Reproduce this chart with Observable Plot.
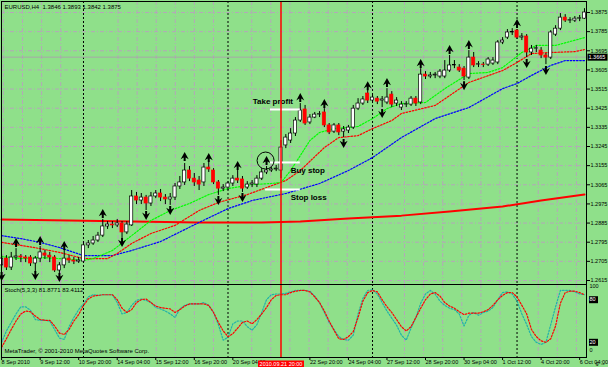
<!DOCTYPE html>
<html><head><meta charset="utf-8">
<script src="https://cdn.jsdelivr.net/npm/d3@7"></script>
<script src="https://cdn.jsdelivr.net/npm/@observablehq/plot@0.6"></script>
<style>
html,body{margin:0;padding:0;background:#fff;}
#chart{position:relative;width:608px;height:367px;background:#8FE08A;overflow:hidden;}
#chart svg{position:absolute;left:0;}
</style></head><body><div id="chart"></div>
<script>
// ---------- DATA (H4 EURUSD, bar index 0 = 13 Sep 2010 00:00) ----------
const firstBar = -17;
const opens = [1.2686,1.2718,1.2676,1.2723,1.2728,1.2723,1.2723,1.2695,1.2718,1.2742,1.2732,1.2723,1.2662,1.2686,1.2718,1.2709,1.2704,
 1.2704,1.2780,1.2789,1.2803,1.2826,1.2869,1.2878,1.2874,1.2883,1.2841,
 1.2874,1.3010,1.2991,1.3005,1.2977,1.3010,1.3024,1.3005,1.2996,1.3005,
 1.3057,1.3076,1.3132,1.3094,1.3085,1.3076,1.3146,1.3132,1.3076,1.3047,
 1.3052,1.3071,1.3094,1.3090,1.3052,1.3066,1.3066,1.3094,1.3123,1.3132,
 1.3137,1.3132,1.3250,1.3273,1.3306,1.3367,1.3419,1.3358,1.3381,1.3395,
 1.3405,1.3344,1.3315,1.3344,1.3315,1.3320,1.3334,1.3423,1.3447,1.3494,
 1.3461,1.3470,1.3461,1.3452,1.3489,1.3447,1.3428,1.3442,1.3442,1.3470,
 1.3452,1.3583,1.3574,1.3579,1.3574,1.3574,1.3602,1.3626,1.3616,1.3611,
 1.3569,1.3663,1.3630,1.3630,1.3630,1.3635,1.3640,1.3734,1.3757,1.3781,
 1.3790,1.3757,1.3762,1.3687,1.3705,1.3696,1.3673,1.3663,1.3771,1.3799,
 1.3851,1.3837,1.3837,1.3846,1.3846];
const highs = [1.2737,1.2732,1.2747,1.2765,1.2737,1.2732,1.2732,1.2728,1.2775,1.2756,1.2747,1.2732,1.2699,1.2756,1.2732,1.2723,1.2723,
 1.2789,1.2803,1.2822,1.2841,1.2902,1.2892,1.2892,1.2902,1.2892,1.2892,
 1.3038,1.3029,1.3024,1.3015,1.3029,1.3038,1.3043,1.3019,1.3024,1.3071,
 1.3104,1.3165,1.3151,1.3118,1.3104,1.3165,1.3170,1.3141,1.3085,1.3066,
 1.3080,1.3108,1.3132,1.3104,1.3080,1.3085,1.3108,1.3141,1.3151,1.3146,
 1.3156,1.3273,1.3301,1.3329,1.3381,1.3447,1.3438,1.3395,1.3405,1.3409,
 1.3423,1.3353,1.3353,1.3353,1.3339,1.3344,1.3438,1.3470,1.3480,1.3508,
 1.3485,1.3480,1.3480,1.3517,1.3503,1.3475,1.3456,1.3456,1.3480,1.3480,
 1.3611,1.3597,1.3593,1.3593,1.3607,1.3649,1.3673,1.3649,1.3630,1.3621,
 1.3696,1.3687,1.3644,1.3640,1.3663,1.3663,1.3743,1.3757,1.3795,1.3799,
 1.3795,1.3776,1.3771,1.3720,1.3720,1.3710,1.3682,1.3790,1.3813,1.3870,
 1.3865,1.3851,1.3856,1.3861,1.3893];
const lows = [1.2671,1.2662,1.2662,1.2709,1.2699,1.2699,1.2681,1.2653,1.2699,1.2714,1.2699,1.2653,1.2648,1.2671,1.2695,1.2690,1.2695,
 1.2695,1.2765,1.2780,1.2794,1.2817,1.2855,1.2859,1.2864,1.2812,1.2831,
 1.2869,1.2972,1.2972,1.2944,1.2963,1.3000,1.2986,1.2972,1.2968,1.2991,
 1.3043,1.3062,1.3080,1.3057,1.3038,1.3057,1.3123,1.3066,1.3015,1.3033,
 1.3038,1.3057,1.3071,1.3029,1.3043,1.3052,1.3052,1.3085,1.3113,1.3123,
 1.3127,1.3094,1.3235,1.3259,1.3292,1.3358,1.3344,1.3348,1.3376,1.3381,
 1.3334,1.3301,1.3306,1.3296,1.3287,1.3306,1.3325,1.3414,1.3438,1.3447,
 1.3447,1.3442,1.3428,1.3442,1.3428,1.3433,1.3414,1.3428,1.3433,1.3433,
 1.3442,1.3560,1.3564,1.3564,1.3564,1.3564,1.3593,1.3611,1.3593,1.3555,
 1.3560,1.3616,1.3616,1.3616,1.3621,1.3626,1.3630,1.3724,1.3748,1.3767,
 1.3748,1.3743,1.3663,1.3673,1.3687,1.3658,1.3630,1.3654,1.3762,1.3790,
 1.3828,1.3823,1.3828,1.3832,1.3842];
const closes = [1.2718,1.2676,1.2723,1.2728,1.2723,1.2718,1.2695,1.2718,1.2747,1.2732,1.2723,1.2662,1.2686,1.2718,1.2709,1.2704,1.2709,
 1.2780,1.2789,1.2803,1.2826,1.2869,1.2878,1.2874,1.2883,1.2841,1.2878,
 1.3010,1.2991,1.3005,1.2977,1.3010,1.3024,1.3005,1.2996,1.3005,1.3057,
 1.3076,1.3132,1.3094,1.3076,1.3066,1.3146,1.3137,1.3076,1.3047,1.3052,
 1.3071,1.3094,1.3085,1.3047,1.3066,1.3071,1.3094,1.3123,1.3132,1.3137,
 1.3141,1.3240,1.3287,1.3306,1.3367,1.3414,1.3353,1.3381,1.3395,1.3397,
 1.3344,1.3311,1.3344,1.3311,1.3325,1.3334,1.3423,1.3447,1.3466,1.3461,
 1.3475,1.3456,1.3466,1.3475,1.3442,1.3461,1.3442,1.3444,1.3470,1.3447,
 1.3583,1.3574,1.3579,1.3583,1.3597,1.3602,1.3626,1.3628,1.3602,1.3574,
 1.3663,1.3626,1.3632,1.3628,1.3654,1.3649,1.3734,1.3743,1.3781,1.3783,
 1.3757,1.3762,1.3687,1.3705,1.3707,1.3673,1.3663,1.3781,1.3799,1.3851,
 1.3837,1.3839,1.3846,1.3848,1.3875];

// Stochastic(5,3,3): main (%K) and signal (%D), one value per bar
const stochK = [20,36,48,60,70,70,65,52,51,51,50,38,26,24,42,55,66,
 74,84,87,86,87,87,87,76,60,62, 72,79,81,79,76,69,67,64,60,55,
 67,72,74,74,74,76,72,62,45,23, 27,46,50,50,42,37,45,62,80,87,
 88,88,89,91,93,93,93,92,85,76, 62,48,38,28,24,23,30,60,82,93,
 94,88,76,64,54,44,30,23,40,55, 75,88,93,88,78,72,68,66,60,43,
 58,62,58,62,64,69,80,90,91,88, 78,60,45,28,20,17,20,45,70,93,
 93,93,91,88,87];
const stochD = [13,25,38,50,60,64,63,57,52,51,51,43,33,31,38,50,59,
 72,81,85,86,87,87,87,80,68,62, 66,76,80,81,76,71,69,68,67,62,
 66,71,74,74,74,74,72,62,48,36, 28,32,40,48,50,46,52,60,69,80,
 86,87,87,90,92,93,93,91,84,76, 64,50,37,25,24,28,35,55,78,90,
 93,91,80,70,62,52,42,36,42,55, 68,80,88,90,85,76,71,68,63,59,
 61,61,61,63,66,72,80,86,90,90, 84,72,60,38,28,22,20,25,43,75,
 90,92,92,90,87];

// Moving averages, read at sample bars
const maGreenG = [-17,-13,-9,-5,0,2,6,10,14,18,22,26,30,35,39,41,43,45,47,49,52,57,60,63,66,71,75,80,84,87,91,94,98,104];
const maGreenP = [1.2728,1.2718,1.2723,1.2718,1.2709,1.2718,1.2756,1.2826,1.2897,1.2944,1.2977,1.3019,1.3047,1.3066,1.3071,1.3076,1.3132,1.3202,1.3273,1.3311,1.3329,1.3339,1.3376,1.3423,1.3447,1.3452,1.3517,1.3588,1.3593,1.3616,1.3687,1.3720,1.3720,1.3757];
const maRedG = [-17,-13,-9,-5,0,5,7,10,14,19,24,28,34,38,42,45,50,53,57,60,64,66,73,80,87,90,93,97,102,104];
const maRedP = [1.2794,1.2780,1.2765,1.2747,1.2718,1.2718,1.2742,1.2789,1.2836,1.2874,1.2944,1.2982,1.3019,1.3052,1.3085,1.3132,1.3240,1.3287,1.3296,1.3329,1.3367,1.3400,1.3438,1.3546,1.3602,1.3640,1.3682,1.3687,1.3691,1.3701];
const maBlueG = [-17,-13,-9,-5,0,6,10,16,24,30,35,42,49,55,60,66,73,80,87,90,93,97,100,104];
const maBlueP = [1.2826,1.2812,1.2794,1.2770,1.2732,1.2732,1.2756,1.2798,1.2888,1.2953,1.2991,1.3024,1.3071,1.3132,1.3193,1.3287,1.3376,1.3428,1.3517,1.3541,1.3579,1.3626,1.3649,1.3649];
const maSlowG = [-17,-3,10,24,37,45,55,66,76,87,95,104];
const maSlowP = [1.2902,1.2897,1.2892,1.2888,1.2888,1.2892,1.2906,1.2920,1.2939,1.2963,1.2991,1.3019];

// Fractals
const fracUpG = [-14,-9,-4,4,21,26,32,38,45,50,59,63,70,76,80,90];
const fracUpP = [1.2794,1.2803,1.2780,1.2930,1.3198,1.3193,1.3156,1.3179,1.3475,1.3447,1.3531,1.3546,1.3635,1.3701,1.3724,1.3823];
const fracDownG = [-17,-10,-5,8,13,18,28,33,54,62,79,92,96];
const fracDownP = [1.2634,1.2638,1.2629,1.2794,1.2921,1.2944,1.2991,1.3005,1.3259,1.3400,1.3531,1.3635,1.3602];

// Trade annotation levels
const levelNames = ["Take profit", "Buy stop", "Stop loss"];
const levelPrices = [1.3419, 1.3170, 1.3043];
const levelFromG = [38.8, 38.8, 37.8];
const levelToG = [45, 45, 45];
const circleG = 37.8, circleP = 1.3179;

// Axes / labels
const priceTicks = [1.3875,1.3785,1.3695,1.3605,1.3515,1.3425,1.3335,1.3245,1.3155,1.3065,1.2975,1.2885,1.2795,1.2705,1.2615];
const dateTickG = [-17,-9,-1,7,15,23,31,47,55,63,71,79,87,95,103];
const dateTickLabels = ["8 Sep 2010","9 Sep 12:00","10 Sep 20:00","14 Sep 04:00","15 Sep 12:00","16 Sep 20:00","20 Sep 04:00","22 Sep 20:00","24 Sep 04:00","27 Sep 12:00","28 Sep 20:00","30 Sep 04:00","1 Oct 12:00","4 Oct 20:00","6 Oct 04:00"];
const weekStarts = [0, 30, 60, 90];
const cursorG = 41, cursorLabel = "2010.09.21 20:00";
const bidPrice = 1.3665;
const titleText = "EURUSD,H4  1.3846 1.3893 1.3842 1.3875";
const stochTitle = "Stoch(5,3,3) 81.8771 83.4112";
const copyright = "MetaTrader, \u00A9 2001-2010 MetaQuotes Software Corp.";
const stochLevels = [80, 20];
const stochTop = 100, stochBottom = 0;

// ---------- BUILD ----------
const FONT = "'Liberation Sans', Arial, sans-serif";
const GRID = "#b4a8b8";
const DASH = "4,2,1,2";
const MADASH = "1.6,1.6";
const xDomain = [-17.23, 104.42];
const xRange = [0, 586];

const bars = opens.map((o, i) => ({g: firstBar + i, o, h: highs[i], l: lows[i], c: closes[i]}));
const stochData = stochK.map((k, i) => ({g: firstBar + i, k, d: stochD[i]}));
const zip = (G, P) => G.map((g, i) => ({g, p: P[i]}));
const gridG = d3.range(-5, 27).map(k => 3.2 + 3.965 * k)
  .filter(g => g > xDomain[0] && g < xDomain[1] && !weekStarts.some(s => g - s > -1.5 && g - s < 4));
const dateMap = new Map(dateTickG.map((g, i) => [g, dateTickLabels[i]]));
const levels = levelNames.map((n, i) => ({n, p: levelPrices[i], g1: levelFromG[i], g2: levelToG[i]}));

const boxSym = (w, h) => ({draw(ctx) { ctx.rect(-w / 2, -h / 2, w, h); }});
const upSym = {draw(ctx) {
  ctx.moveTo(0, -4.5); ctx.lineTo(4, 2.8); ctx.lineTo(1, 0.9); ctx.lineTo(1, 4.5);
  ctx.lineTo(-1, 4.5); ctx.lineTo(-1, 0.9); ctx.lineTo(-4, 2.8); ctx.closePath();
}};
const downSym = {draw(ctx) {
  ctx.moveTo(0, 4.5); ctx.lineTo(4, -2.8); ctx.lineTo(1, -0.9); ctx.lineTo(1, -4.5);
  ctx.lineTo(-1, -4.5); ctx.lineTo(-1, -0.9); ctx.lineTo(-4, -2.8); ctx.closePath();
}};

const main = Plot.plot({
  width: 608, height: 284,
  marginTop: 1, marginBottom: 0, marginLeft: 1, marginRight: 22,
  x: {domain: xDomain, range: xRange, axis: null},
  y: {domain: [priceTicks[priceTicks.length - 1], priceTicks[0]], range: [280, 12], axis: null},
  style: {background: "none", fontFamily: FONT, overflow: "visible"},
  marks: [
    Plot.ruleY(priceTicks, {stroke: GRID, strokeDasharray: DASH}),
    Plot.ruleX(gridG, {stroke: GRID, strokeDasharray: DASH}),
    Plot.ruleX(weekStarts, {stroke: "black", strokeDasharray: "2,2"}),
    Plot.ruleY([bidPrice], {stroke: "#a8a8a8"}),
    Plot.line(zip(maSlowG, maSlowP), {x: "g", y: "p", stroke: "red", strokeWidth: 2}),
    Plot.line(zip(maBlueG, maBlueP), {x: "g", y: "p", stroke: "blue", strokeWidth: 1.2, strokeDasharray: MADASH}),
    Plot.line(zip(maRedG, maRedP), {x: "g", y: "p", stroke: "red", strokeWidth: 1.2, strokeDasharray: MADASH}),
    Plot.line(zip(maGreenG, maGreenP), {x: "g", y: "p", stroke: "#00ff00", strokeWidth: 1.2, strokeDasharray: MADASH}),
    Plot.ruleX(bars, {x: "g", y1: "l", y2: "h", stroke: "black", strokeWidth: 1}),
    Plot.rect(bars, {x1: d => d.g - 0.33, x2: d => d.g + 0.33, y1: "o", y2: "c",
      fill: d => d.c >= d.o ? "white" : "red", stroke: d => d.c >= d.o ? "black" : "red", strokeWidth: 0.7}),
    Plot.dot(zip(fracUpG, fracUpP), {x: "g", y: "p", symbol: upSym, fill: "black", stroke: "none"}),
    Plot.dot(zip(fracDownG, fracDownP), {x: "g", y: "p", symbol: downSym, fill: "black", stroke: "none"}),
    Plot.ruleY(levels, {y: "p", x1: "g1", x2: "g2", stroke: "white", strokeWidth: 2}),
    Plot.dot([{g: circleG, p: circleP}], {x: "g", y: "p", r: 8.5, stroke: "black", fill: "none", strokeWidth: 1}),
    Plot.text(levels.slice(0, 1), {x: d => d.g2 - 1.5, y: "p", text: "n", dy: -8, textAnchor: "end",
      fontWeight: "bold", fontSize: 8, fill: "black"}),
    Plot.text(levels.slice(1), {x: d => d.g2 - 2, y: "p", text: "n", dy: 8, textAnchor: "start",
      fontWeight: "bold", fontSize: 8, fill: "black"}),
    Plot.ruleX([cursorG], {stroke: "red", strokeWidth: 1.5}),
    Plot.frame({stroke: "black"}),
    Plot.axisY(priceTicks, {anchor: "right", tickFormat: d3.format(".4f"), tickSize: 3, tickPadding: 1,
      fontSize: 5.5, stroke: "black", fill: "black"}),
    Plot.dot([bidPrice], {y: d => d, frameAnchor: "right", dx: 11, symbol: boxSym(20, 7), fill: "black", stroke: "none"}),
    Plot.text([bidPrice], {y: d => d, frameAnchor: "right", dx: 2, text: d => d.toFixed(4), textAnchor: "start",
      fill: "white", fontSize: 5.5}),
    Plot.text([titleText], {frameAnchor: "top-left", dx: 3, dy: 3, lineAnchor: "top", textAnchor: "start",
      text: d => d, fontSize: 6, fill: "black"})
  ]
});

const stoch = Plot.plot({
  width: 608, height: 84,
  marginTop: 1, marginBottom: 10, marginLeft: 1, marginRight: 22,
  x: {domain: xDomain, range: xRange, axis: null},
  y: {domain: [0, 100], range: [73, 2], axis: null},
  style: {background: "none", fontFamily: FONT, overflow: "visible"},
  marks: [
    Plot.ruleX(gridG, {stroke: GRID, strokeDasharray: DASH}),
    Plot.ruleX(weekStarts, {stroke: "black", strokeDasharray: "2,2"}),
    Plot.line(stochData, {x: "g", y: "k", stroke: "#20B2AA", strokeWidth: 1.2, strokeDasharray: MADASH}),
    Plot.line(stochData, {x: "g", y: "d", stroke: "red", strokeWidth: 1.2, strokeDasharray: MADASH}),
    Plot.ruleX([cursorG], {stroke: "red", strokeWidth: 1.5}),
    Plot.frame({stroke: "black"}),
    Plot.text([stochTitle], {frameAnchor: "top-left", dx: 3, dy: 3, lineAnchor: "top", textAnchor: "start",
      text: d => d, fontSize: 6, fill: "black"}),
    Plot.text([copyright], {frameAnchor: "bottom-left", dx: 3, dy: -6, lineAnchor: "middle", textAnchor: "start",
      text: d => d, fontSize: 6, fill: "black"}),
    Plot.text([stochTop], {y: d => d, frameAnchor: "right", dx: 3, dy: 1, text: d => String(d), textAnchor: "start",
      fill: "black", fontSize: 5.5}),
    Plot.text([stochBottom], {y: d => d, frameAnchor: "right", dx: 3, dy: -6, text: d => String(d), textAnchor: "start",
      fill: "black", fontSize: 5.5}),
    Plot.dot(stochLevels, {y: d => d, frameAnchor: "right", dx: 7, symbol: boxSym(9, 7), fill: "black", stroke: "none"}),
    Plot.text(stochLevels, {y: d => d, frameAnchor: "right", dx: 3, text: d => String(d), textAnchor: "start",
      fill: "white", fontSize: 5.5}),
    Plot.axisX(dateTickG, {anchor: "bottom", tickFormat: d => dateMap.get(d), textAnchor: "start",
      tickSize: 3, tickPadding: 0, fontSize: 5.5, stroke: "black", fill: "black"}),
    Plot.dot([cursorG], {x: d => d, frameAnchor: "bottom", dy: 7, symbol: boxSym(46, 8), fill: "red", stroke: "none"}),
    Plot.text([cursorG], {x: d => d, frameAnchor: "bottom", dy: 7, text: () => cursorLabel, fill: "white",
      fontSize: 5.5, lineAnchor: "middle"})
  ]
});

const root = document.getElementById("chart");
main.style.top = "0px";
stoch.style.top = "283px";
root.appendChild(main);
root.appendChild(stoch);
</script>
</body></html>
